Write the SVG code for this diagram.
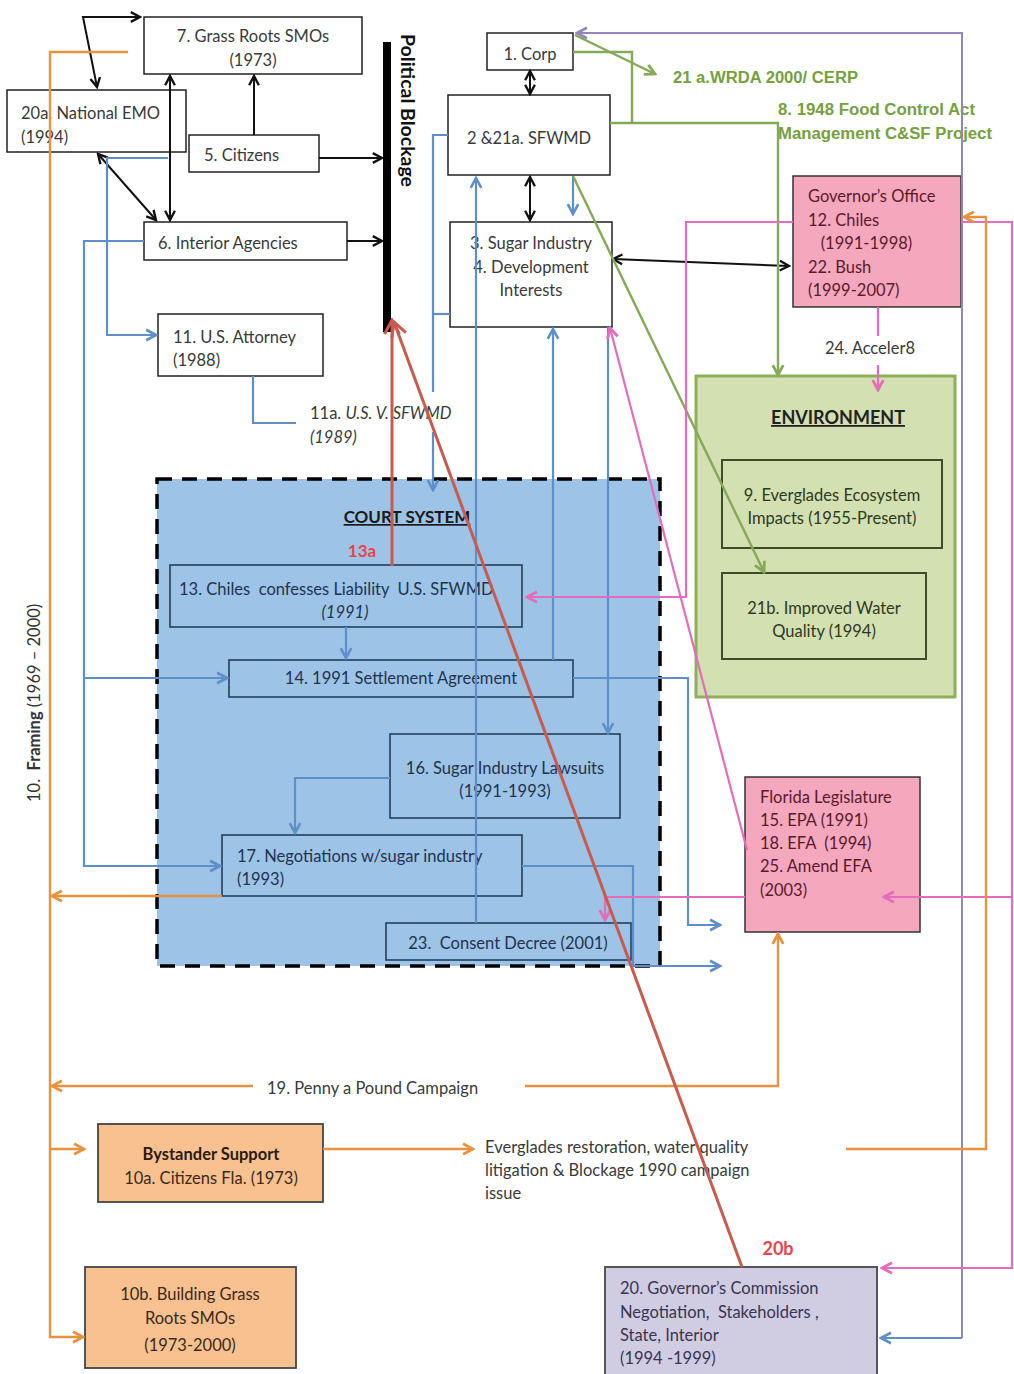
<svg xmlns="http://www.w3.org/2000/svg" width="1014" height="1374" viewBox="0 0 1014 1374">
<style>
text{font-family:Lato,"Open Sans","Liberation Sans",sans-serif;font-size:16.5px;fill:#3a3a3a;white-space:pre}
.c{text-anchor:middle}
.wb{fill:#fff;stroke:#222;stroke-width:1.5}
.cb{fill:#9dc3e6;stroke:#22405f;stroke-width:1.6}
.ct{fill:#1f3350}
.pk{fill:#f5a7bd;stroke:#333;stroke-width:1.5}
.pt{fill:#5a1a2a}
.eb{fill:#d3e0b1;stroke:#3f4c2a;stroke-width:2}
.et{fill:#2e3a1e}
.ob{fill:#f9c18f;stroke:#444;stroke-width:1.8}
.ot{fill:#3a2a1a}
.pb{fill:#d0cce2;stroke:#555;stroke-width:2}
.gt{fill:#76a040;font-family:"Liberation Sans",Arial,sans-serif;font-weight:bold;font-size:16px}
.rt{font-weight:bold;fill:#e8434f}
.k{fill:none;stroke:#111;stroke-width:2}
.b{fill:none;stroke:#5f8fc9;stroke-width:2.2}
.g{fill:none;stroke:#84a957;stroke-width:2.4}
.p{fill:none;stroke:#e46cbc;stroke-width:2.2}
.o{fill:none;stroke:#e8913f;stroke-width:2.4}
.r{fill:none;stroke:#c95a4e;stroke-width:3}
.u{fill:none;stroke:#9386c0;stroke-width:2}
</style>
<defs>
<marker id="mk" viewBox="0 0 12 12" refX="10.5" refY="6" markerWidth="13" markerHeight="13" markerUnits="userSpaceOnUse" orient="auto-start-reverse"><path d="M2,1.5 L10.5,6 L2,10.5" fill="none" stroke="#111" stroke-width="2.2"/></marker>
<marker id="mb" viewBox="0 0 12 12" refX="10.5" refY="6" markerWidth="14" markerHeight="14" markerUnits="userSpaceOnUse" orient="auto-start-reverse"><path d="M2,1.5 L10.5,6 L2,10.5" fill="none" stroke="#5f8fc9" stroke-width="2.2"/></marker>
<marker id="mg" viewBox="0 0 12 12" refX="10.5" refY="6" markerWidth="14" markerHeight="14" markerUnits="userSpaceOnUse" orient="auto-start-reverse"><path d="M2,1.5 L10.5,6 L2,10.5" fill="none" stroke="#84a957" stroke-width="2.4"/></marker>
<marker id="mp" viewBox="0 0 12 12" refX="10.5" refY="6" markerWidth="14" markerHeight="14" markerUnits="userSpaceOnUse" orient="auto-start-reverse"><path d="M2,1.5 L10.5,6 L2,10.5" fill="none" stroke="#e46cbc" stroke-width="2.4"/></marker>
<marker id="mo" viewBox="0 0 12 12" refX="10.5" refY="6" markerWidth="14" markerHeight="14" markerUnits="userSpaceOnUse" orient="auto-start-reverse"><path d="M2,1.5 L10.5,6 L2,10.5" fill="none" stroke="#e8913f" stroke-width="2.4"/></marker>
<marker id="mr" viewBox="0 0 12 12" refX="10.5" refY="6" markerWidth="20" markerHeight="20" markerUnits="userSpaceOnUse" orient="auto-start-reverse"><path d="M2,1.5 L10.5,6 L2,10.5" fill="none" stroke="#c95a4e" stroke-width="1.8"/></marker>
<marker id="mu" viewBox="0 0 12 12" refX="10.5" refY="6" markerWidth="14" markerHeight="14" markerUnits="userSpaceOnUse" orient="auto-start-reverse"><path d="M2,1.5 L10.5,6 L2,10.5" fill="none" stroke="#9386c0" stroke-width="2.2"/></marker>
</defs>
<rect width="1014" height="1374" fill="#fff"/>

<!-- containers -->
<g id="court-system">
<rect x="157" y="479" width="503" height="487" fill="#9dc3e6" stroke="#000" stroke-width="3.5" stroke-dasharray="15 10"/>
<text class="c" x="407" y="523" style="font-weight:bold;fill:#1a1a1a;text-decoration:underline;font-size:17px">COURT SYSTEM</text>
<text class="c rt" x="362" y="557" style="font-size:17px">13a</text>
</g>
<g id="environment">
<rect x="696" y="376" width="259" height="321" fill="#d3e0b1" stroke="#8fb05a" stroke-width="3"/>
<text class="c" x="838" y="424" style="font-weight:bold;fill:#222;text-decoration:underline;font-size:18px">ENVIRONMENT</text>
</g>

<!-- nodes -->
<g id="n7"><rect class="wb" x="144" y="17" width="218" height="57"/><text class="c" x="253" y="42">7. Grass Roots SMOs</text><text class="c" x="253" y="66">(1973)</text></g>
<g id="n20a"><rect class="wb" x="7" y="90" width="179" height="62"/><text x="21" y="119">20a. National EMO</text><text x="21" y="143">(1994)</text></g>
<g id="n5"><rect class="wb" x="189" y="135" width="130" height="37"/><text x="204" y="161">5. Citizens</text></g>
<g id="n6"><rect class="wb" x="144" y="222" width="203" height="38"/><text x="158" y="249">6. Interior Agencies</text></g>
<g id="blockage"><rect x="383" y="42" width="8" height="290" fill="#000"/><text transform="translate(401,34) rotate(90)" style="font-size:19.5px;font-weight:bold;fill:#111">Political Blockage</text></g>
<g id="n11"><rect class="wb" x="158" y="314" width="165" height="62"/><text x="173" y="343">11. U.S. Attorney</text><text x="173" y="366">(1988)</text></g>
<g id="n11a"><text x="310" y="419">11a. <tspan font-style="italic">U.S. V. SFWMD</tspan></text><text x="310" y="443" font-style="italic">(1989)</text></g>
<g id="n1"><rect class="wb" x="487" y="33" width="86" height="37"/><text class="c" x="530" y="60">1. Corp</text></g>
<g id="n2"><rect class="wb" x="448" y="95" width="162" height="80"/><text class="c" x="529" y="144">2 &amp;21a. SFWMD</text></g>
<g id="n3"><rect class="wb" x="450" y="222" width="162" height="105"/><text class="c" x="531" y="249">3. Sugar Industry</text><text class="c" x="531" y="273">4. Development</text><text class="c" x="531" y="296">Interests</text></g>
<g id="gov"><rect class="pk" x="793" y="176" width="168" height="131"/><text class="pt" x="808" y="202">Governor’s Office</text><text class="pt" x="808" y="226">12. Chiles</text><text class="pt" x="808" y="249">   (1991-1998)</text><text class="pt" x="808" y="273">22. Bush</text><text class="pt" x="808" y="296">(1999-2007)</text></g>
<g id="n24"><text class="c" x="870" y="354">24. Acceler8</text></g>
<g id="n9"><rect class="eb" x="722" y="460" width="220" height="88"/><text class="c et" x="832" y="501">9. Everglades Ecosystem</text><text class="c et" x="832" y="524">Impacts (1955-Present)</text></g>
<g id="n21b"><rect class="eb" x="722" y="573" width="204" height="86"/><text class="c et" x="824" y="614">21b. Improved Water</text><text class="c et" x="824" y="637">Quality (1994)</text></g>
<g id="fla"><rect class="pk" x="745" y="777" width="175" height="155"/><text class="pt" x="760" y="803">Florida Legislature</text><text class="pt" x="760" y="826">15. EPA (1991)</text><text class="pt" x="760" y="849">18. EFA  (1994)</text><text class="pt" x="760" y="872">25. Amend EFA</text><text class="pt" x="760" y="896">(2003)</text></g>
<g id="n13"><rect class="cb" x="170" y="565" width="352" height="62"/><text class="ct" x="179" y="595">13. Chiles  confesses Liability  U.S. SFWMD</text><text class="c ct" x="345" y="618" font-style="italic">(1991)</text></g>
<g id="n14"><rect class="cb" x="229" y="660" width="344" height="37"/><text class="c ct" x="401" y="684">14. 1991 Settlement Agreement</text></g>
<g id="n16"><rect class="cb" x="390" y="734" width="230" height="84"/><text class="c ct" x="505" y="774">16. Sugar Industry Lawsuits</text><text class="c ct" x="505" y="797">(1991-1993)</text></g>
<g id="n17"><rect class="cb" x="222" y="835" width="300" height="61"/><text class="ct" x="237" y="862">17. Negotiations w/sugar industry</text><text class="ct" x="237" y="885">(1993)</text></g>
<g id="n23"><rect class="cb" x="386" y="923" width="245" height="37"/><text class="c ct" x="508" y="949">23.  Consent Decree (2001)</text></g>
<g id="n21a"><text class="gt" x="673" y="83" textLength="185" lengthAdjust="spacingAndGlyphs">21 a.WRDA 2000/ CERP</text></g>
<g id="n8"><text class="gt" x="778" y="115" textLength="197" lengthAdjust="spacingAndGlyphs">8. 1948 Food Control Act</text><text class="gt" x="778" y="139" textLength="214" lengthAdjust="spacingAndGlyphs">Management C&amp;SF Project</text></g>
<g id="n10"><text transform="translate(40,802) rotate(-90)" style="fill:#333">10.  <tspan font-weight="bold">Framing</tspan> (1969 – 2000)</text></g>
<g id="n19"><text x="267" y="1094">19. Penny a Pound Campaign</text></g>
<g id="n10a"><rect class="ob" x="98" y="1124" width="225" height="78"/><text class="c" x="211" y="1160" style="font-weight:bold;fill:#2a1a10">Bystander Support</text><text class="c ot" x="211" y="1184">10a. Citizens Fla. (1973)</text></g>
<g id="issue"><text x="485" y="1153">Everglades restoration, water quality</text><text x="485" y="1176">litigation &amp; Blockage 1990 campaign</text><text x="485" y="1199">issue</text></g>
<g id="n10b"><rect class="ob" x="85" y="1267" width="211" height="101"/><text class="c ot" x="190" y="1300">10b. Building Grass</text><text class="c ot" x="190" y="1324">Roots SMOs</text><text class="c ot" x="190" y="1351">(1973-2000)</text></g>
<g id="n20"><rect class="pb" x="605" y="1267" width="272" height="120"/><text x="620" y="1294" style="fill:#3a3450">20. Governor’s Commission</text><text x="620" y="1318" style="fill:#3a3450">Negotiation,  Stakeholders ,</text><text x="620" y="1341" style="fill:#3a3450">State, Interior</text><text x="620" y="1364" style="fill:#3a3450">(1994 -1999)</text></g>
<g id="n20b"><text class="c rt" x="778" y="1255" style="font-size:18px">20b</text></g>

<g id="connectors">
<!-- black -->
<path class="k" d="M140,17 L83,17 L97,87" marker-start="url(#mk)" marker-end="url(#mk)"/>
<path class="k" d="M170,76 V220" marker-start="url(#mk)" marker-end="url(#mk)"/>
<path class="k" d="M254,135 V76" marker-end="url(#mk)"/>
<path class="k" d="M319,158 H382" marker-end="url(#mk)"/>
<path class="k" d="M347,241 H382" marker-end="url(#mk)"/>
<path class="k" d="M98,154 L156,220" marker-start="url(#mk)" marker-end="url(#mk)"/>
<path class="k" d="M530,71 V94" marker-start="url(#mk)" marker-end="url(#mk)"/>
<path class="k" d="M530,177 V220" marker-start="url(#mk)" marker-end="url(#mk)"/>
<path class="k" d="M613,259 L789,266" marker-start="url(#mk)" marker-end="url(#mk)"/>
<!-- blue -->
<path class="b" d="M573,176 V214" marker-end="url(#mb)"/>
<path class="b" d="M448,135 H433 V392"/>
<path class="b" d="M433,314 H450"/>
<path class="b" d="M433,432 V490" marker-end="url(#mb)"/>
<path class="b" d="M253,376 V423 H296"/>
<path class="b" d="M168,158 H107 V335 H156" marker-end="url(#mb)"/>
<path class="b" d="M144,241 H84 V866 H220" marker-end="url(#mb)"/>
<path class="b" d="M84,678 H227" marker-end="url(#mb)"/>
<path class="b" d="M476,923 V178" marker-end="url(#mb)"/>
<path class="b" d="M553,660 V329" marker-end="url(#mb)"/>
<path class="b" d="M608,327 V733" marker-end="url(#mb)"/>
<path class="b" d="M346,627 V658" marker-end="url(#mb)"/>
<path class="b" d="M390,778 H295 V833" marker-end="url(#mb)"/>
<path class="b" d="M573,678 H688 V925 H720" marker-end="url(#mb)"/>
<path class="b" d="M522,866 H633 V966 H720" marker-end="url(#mb)"/>
<path class="b" d="M962,1338 H881" marker-end="url(#mb)"/>
<!-- purple -->
<path class="u" d="M962,1338 V33 H577" marker-end="url(#mu)"/>
<!-- green -->
<path class="g" d="M575,35 L655,74" marker-end="url(#mg)"/>
<path class="g" d="M573,52 H632 V123"/>
<path class="g" d="M610,123 H778 V375" marker-end="url(#mg)"/>
<path class="g" d="M573,176 L764,572" marker-end="url(#mg)"/>
<!-- pink -->
<path class="p" d="M793,222 H686 V597 H527" marker-end="url(#mp)"/>
<path class="p" d="M878,307 V336"/>
<path class="p" d="M878,365 V390" marker-end="url(#mp)"/>
<path class="p" d="M961,222 H1012 V1268 H882" marker-end="url(#mp)"/>
<path class="p" d="M1012,897 H884" marker-end="url(#mp)"/>
<path class="p" d="M745,897 H605 V920" marker-end="url(#mp)"/>
<path class="p" d="M747,850 L610,328" marker-end="url(#mp)"/>
<!-- orange -->
<path class="o" d="M128,52 H50 V1337 H83" marker-end="url(#mo)"/>
<path class="o" d="M50,1149 H84" marker-end="url(#mo)"/>
<path class="o" d="M222,896 H52" marker-end="url(#mo)"/>
<path class="o" d="M253,1086 H52" marker-end="url(#mo)"/>
<path class="o" d="M525,1086 H778 V934" marker-end="url(#mo)"/>
<path class="o" d="M323,1149 H473" marker-end="url(#mo)"/>
<path class="o" d="M846,1149 H986 V217 H964" marker-end="url(#mo)"/>
<!-- red -->
<path class="r" d="M392,566 V320" marker-end="url(#mr)"/>
<path class="r" d="M742,1267 L394,322" marker-end="url(#mr)"/>
</g>
</svg>
